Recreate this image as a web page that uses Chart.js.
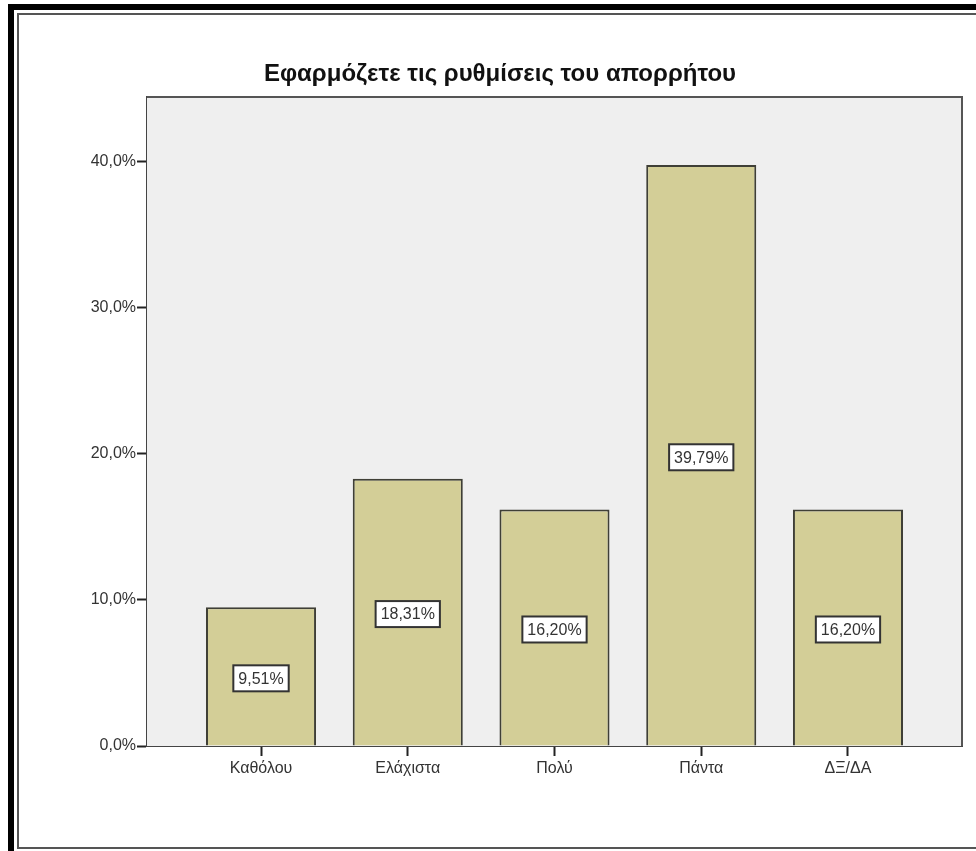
<!DOCTYPE html>
<html>
<head>
<meta charset="utf-8">
<script src="https://cdn.jsdelivr.net/npm/chart.js@4.4.1/dist/chart.umd.min.js"></script>
<style>
  html, body { margin: 0; padding: 0; background: #ffffff; overflow: hidden; }
  #wrap { position: relative; width: 976px; height: 851px; }
  .frame-outer { position: absolute; left: 8px; top: 4px; width: 1000px; height: 900px;
    border-left: 6px solid #000; border-top: 6px solid #000; box-sizing: border-box; }
  .frame-inner { position: absolute; left: 17px; top: 13px; width: 1000px; height: 836px;
    border-left: 2px solid #555; border-top: 2px solid #555; border-bottom: 2px solid #555; box-sizing: border-box; }
  canvas { position: absolute; left: 0; top: 0; }
</style>
</head>
<body>
<div id="wrap">
  <div class="frame-outer"></div>
  <div class="frame-inner"></div>
  <canvas id="c" width="976" height="851"></canvas>
</div>
<script>
// Survey answers: "Do you apply the privacy settings?"
const categories = ['Καθόλου', 'Ελάχιστα', 'Πολύ', 'Πάντα', 'ΔΞ/ΔΑ'];
const shares = [9.51, 18.31, 16.20, 39.79, 16.20];
const yTicks = [0, 10, 20, 30, 40];
const chartTitle = 'Εφαρμόζετε τις ρυθμίσεις του απορρήτου';

const fmtPct = (v, d) => v.toFixed(d).replace('.', ',') + '%';

const FONT = "'Liberation Sans', Arial, sans-serif";
const TEXT = '#333333';
const AXIS = '#444444';

// grey plot panel with a frame around it
const panel = {
  id: 'panel',
  beforeDatasetsDraw(chart) {
    const { ctx, chartArea: a } = chart;
    ctx.save();
    ctx.fillStyle = '#efefef';
    ctx.fillRect(a.left, a.top, a.right - a.left, a.bottom - a.top);
    ctx.strokeStyle = '#555555';
    ctx.lineWidth = 2;
    ctx.beginPath();
    ctx.moveTo(a.left, a.top);
    ctx.lineTo(a.right, a.top);
    ctx.lineTo(a.right, a.bottom);
    ctx.stroke();
    ctx.restore();
  }
};

// boxed value labels in the middle of each bar
const boxedLabels = {
  id: 'boxedLabels',
  afterDatasetsDraw(chart) {
    const { ctx } = chart;
    const meta = chart.getDatasetMeta(0);
    ctx.save();
    ctx.font = '16px ' + FONT;
    ctx.textAlign = 'center';
    ctx.textBaseline = 'middle';
    meta.data.forEach((bar, i) => {
      const txt = fmtPct(shares[i], 2);
      const w = ctx.measureText(txt).width + 10;
      const h = 26;
      const cx = bar.x;
      const cy = (bar.y + bar.base) / 2 + 2;
      ctx.fillStyle = '#ffffff';
      ctx.fillRect(cx - w / 2, cy - h / 2, w, h);
      ctx.strokeStyle = '#333333';
      ctx.lineWidth = 2;
      ctx.strokeRect(cx - w / 2, cy - h / 2, w, h);
      ctx.fillStyle = TEXT;
      ctx.fillText(txt, cx, cy + 1);
    });
    ctx.restore();
  }
};

new Chart(document.getElementById('c'), {
  type: 'bar',
  data: {
    datasets: [{
      data: shares.map((v, i) => ({ x: i, y: v })),
      backgroundColor: '#d3ce97',
      borderColor: '#3f3f36',
      borderWidth: 2,
      barPercentage: 0.75,
      categoryPercentage: 1.0
    }]
  },
  options: {
    responsive: false,
    animation: false,
    devicePixelRatio: 1,
    layout: { padding: { left: 38, right: 14, top: 0, bottom: 0 } },
    plugins: {
      legend: { display: false },
      tooltip: { enabled: false },
      title: {
        display: true,
        text: chartTitle,
        color: '#111111',
        font: { family: FONT, size: 24, weight: 'bold', lineHeight: 1.2 },
        padding: { top: 60, bottom: 8.2 }
      }
    },
    scales: {
      x: {
        type: 'linear',
        offset: false,
        min: -0.777,
        max: categories.length - 1 + 0.777,
        afterBuildTicks(axis) { axis.ticks = categories.map((_, i) => ({ value: i })); },
        afterFit(axis) { axis.height = 105; },
        grid: { offset: false, drawOnChartArea: false, drawTicks: true, tickLength: 10, tickColor: '#222', tickWidth: 2 },
        border: { display: true, color: AXIS, width: 2 },
        ticks: {
          color: TEXT, font: { family: FONT, size: 16 }, padding: 3, maxRotation: 0, autoSkip: false,
          callback: (v) => categories[v]
        }
      },
      y: {
        min: 0,
        max: 44.45,
        afterBuildTicks(axis) { axis.ticks = yTicks.map((v) => ({ value: v })); },
        afterFit(axis) { axis.width = 109; },
        grid: { drawOnChartArea: false, drawTicks: true, tickLength: 10, tickColor: '#222', tickWidth: 2 },
        border: { display: true, color: AXIS, width: 2 },
        ticks: {
          color: TEXT, font: { family: FONT, size: 16 }, padding: 1,
          callback: (v) => fmtPct(v, 1)
        }
      }
    }
  },
  plugins: [panel, boxedLabels]
});
</script>
</body>
</html>
